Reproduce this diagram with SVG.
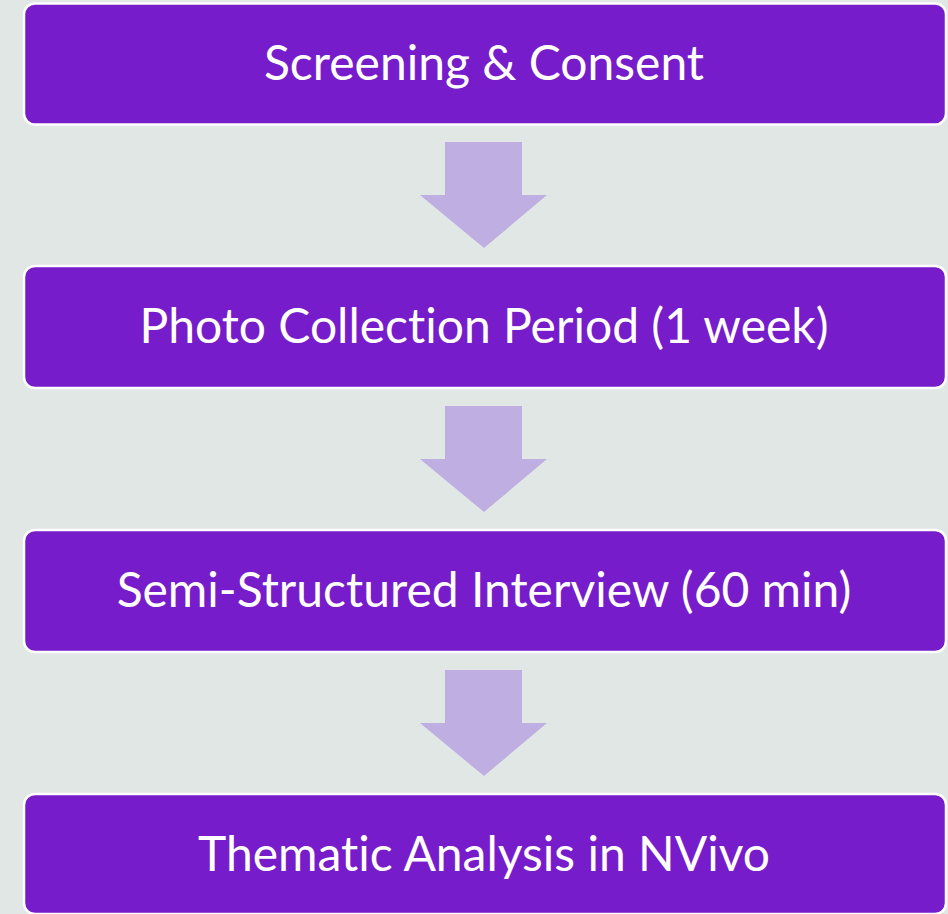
<svg xmlns="http://www.w3.org/2000/svg" width="948" height="914" viewBox="0 0 948 914">
<style>
.box{fill:#761CCB;stroke:#FFFFFF;stroke-width:2.5}
.lbl{fill:#FFFFFF;font-family:Lato,"Open Sans",sans-serif;font-size:48px;text-anchor:middle;font-variant-ligatures:none;font-feature-settings:"liga" 0}
.arr{fill:#BEAEE2}
</style>
<rect x="0" y="0" width="948" height="914" fill="#E1E7E4"/>
<g id="n1"><rect class="box" x="24" y="3.5" width="922" height="121" rx="11"/><text class="lbl" x="484" y="80">Screening &amp; Consent</text></g>
<g id="n2"><rect class="box" x="24" y="266" width="922" height="122" rx="11"/><text class="lbl" x="484" y="343">Photo Collection Period (1 week)</text></g>
<g id="n3"><rect class="box" x="24" y="530" width="922" height="122" rx="11"/><text class="lbl" x="484" y="607">Semi-Structured Interview (60 min)</text></g>
<g id="n4"><rect class="box" x="24" y="794" width="922" height="120" rx="11"/><text class="lbl" x="484" y="871">Thematic Analysis in NVivo</text></g>
<g id="connectors">
<polygon class="arr" points="445,142 522,142 522,195 547,195 484,248 420,195 445,195"/>
<polygon class="arr" points="445,406 522,406 522,459 547,459 484,512 420,459 445,459"/>
<polygon class="arr" points="445,670 522,670 522,723 547,723 484,776 420,723 445,723"/>
</g>
</svg>
